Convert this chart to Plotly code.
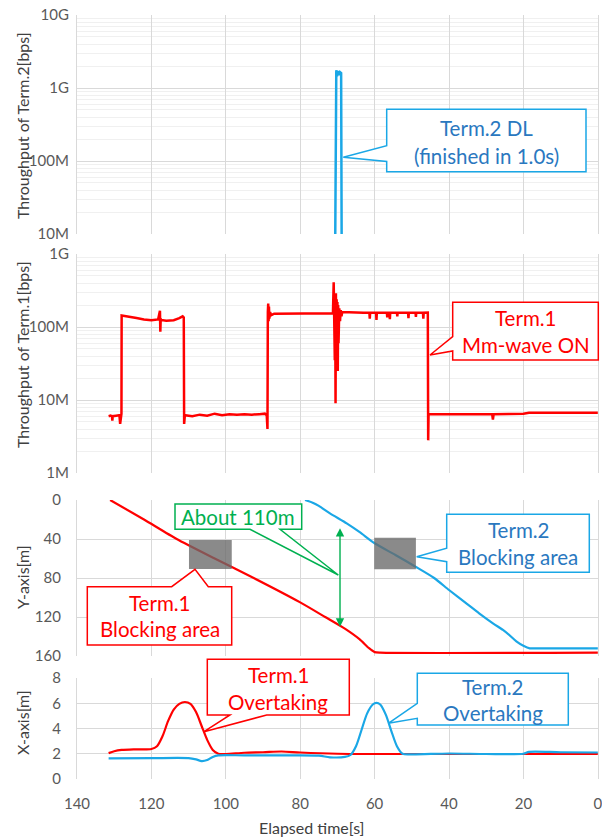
import plotly.graph_objects as go

# ---------------- data ----------------
# Term.2 throughput [bps] vs elapsed time [s]
t2_time = [132, 71.0, 70.7, 70.5, 70.3, 70.1, 69.9, 69.6, 69.3, 69.0, 68.8, 68.6, 0]
t2_tput = [None, None, 1e6, 1.55e9, 1.75e9, 1.45e9, 1.7e9, 1.5e9, 1.65e9, 1.6e9, 1e6, None, None]

# Term.1 throughput [bps]
t1_time = [131.5, 131.0, 130.6, 130.5, 130.4, 129.5, 128.6, 128.4, 128.2, 128.05, 128.0,
           126, 124, 122, 120, 118.2, 117.7, 117.6, 117.5, 117.4, 116, 114, 112.5, 111.6,
           111.3, 111.2, 111.0, 109, 107, 105, 103, 101, 99, 97, 95, 93, 91, 89.5, 89.0,
           88.8, 88.7, 88.6, 88.5, 88.4, 88.3, 88.1, 87.8, 87.0, 84, 80, 76, 73, 71.2,
           71.0, 70.9, 70.8, 70.7, 70.6, 70.5, 70.4, 70.3, 70.2, 70.1, 70.0, 69.9, 69.8,
           69.7, 69.5, 69.3, 69.1, 68.9, 68.7, 66, 63, 61.4, 61.3, 61.2, 59.6, 59.5, 59.4,
           56.7, 56.6, 56.5, 56.0, 55.9, 55.8, 54, 53.9, 53.8, 51, 50.9, 50.8, 49.0, 48.9,
           48.8, 47.0, 46.9, 46.8, 45.7, 45.6, 45.5, 45.3, 40, 35, 30, 28.4, 28.2, 28.0,
           24, 20, 18.5, 10, 0]
t1_tput = [6.0e6, 6.1e6, 6.0e6, 5.2e6, 6.0e6, 6.1e6, 6.2e6, 4.7e6, 6.3e6, 6.5e6, 1.44e8,
           1.40e8, 1.33e8, 1.27e8, 1.24e8, 1.27e8, 1.67e8, 0.86e8, 1.30e8, 1.25e8, 1.22e8,
           1.24e8, 1.32e8, 1.40e8, 1.35e8, 4.7e6, 6.2e6, 6.0e6, 6.3e6, 6.1e6, 6.5e6, 6.2e6,
           6.4e6, 6.3e6, 6.4e6, 6.3e6, 6.4e6, 6.5e6, 6.2e6, 4.0e6, 1.6e8, 2.1e8, 1.2e8,
           1.9e8, 1.3e8, 1.6e8, 1.45e8, 1.52e8, 1.53e8, 1.54e8, 1.55e8, 1.55e8, 1.54e8,
           4.1e8, 1.5e8, 2.9e8, 3.5e7, 2.6e8, 9.0e6, 2.9e8, 3.0e7, 2.4e8, 5.0e7, 2.2e8,
           2.5e7, 2.0e8, 6.0e7, 1.8e8, 1.2e8, 1.7e8, 1.4e8, 1.6e8, 1.57e8, 1.57e8, 1.57e8,
           1.3e8, 1.57e8, 1.57e8, 1.25e8, 1.57e8, 1.57e8, 1.35e8, 1.57e8, 1.57e8, 1.28e8,
           1.57e8, 1.57e8, 1.4e8, 1.57e8, 1.57e8, 1.32e8, 1.57e8, 1.57e8, 1.38e8, 1.57e8,
           1.57e8, 1.3e8, 1.57e8, 1.58e8, 2.8e6, 6.4e6, 6.4e6, 6.4e6, 6.4e6, 6.4e6, 6.4e6,
           5.4e6, 6.4e6, 6.45e6, 6.5e6, 6.7e6, 6.7e6, 6.7e6]

# Y position [m]
y1_time = [131.1, 122, 113.2, 103, 92.5, 80, 73.3, 68, 64, 61.5, 60.0, 58.5, 0]
y1_pos = [0, 20, 40, 60, 80, 105, 120, 132, 143, 152, 156, 156.6, 156.6]
y2_time = [78.7, 76.5, 75, 72, 67.5, 64, 60, 54.4, 49, 44, 40, 35, 31.9, 28, 25.5, 23.5,
           21.9, 20.0, 18.3, 16, 0]
y2_pos = [0, 3, 6, 13.7, 24, 33, 44.4, 56.4, 68.4, 80, 92.3, 107, 116.2, 127, 133.3, 139.5,
          145, 149.5, 152.1, 152.1, 152.1]

# X position [m]
x1_time = [131.5, 130, 128, 124, 120, 118.5, 117, 115.5, 114, 112.5, 111, 109.5, 108, 106.5,
           105, 103.5, 102, 100, 95, 90, 85, 80, 70, 60, 50, 40, 30, 20, 10, 0]
x1_pos = [2.05, 2.2, 2.3, 2.35, 2.38, 2.6, 3.4, 4.6, 5.5, 5.95, 6.1, 5.95, 5.3, 4.2, 3.1,
          2.3, 2.0, 1.98, 2.08, 2.12, 2.18, 2.1, 2.0, 1.98, 1.98, 1.98, 1.98, 1.98, 1.98, 1.98]
x2_time = [131.5, 120, 110, 108, 106.5, 105, 103.5, 102, 95, 85, 75, 72, 68, 66.5, 65, 63.5,
           62, 60.5, 59.5, 58.5, 57, 55.5, 54, 52.5, 50, 40, 30, 20, 18.5, 10, 0]
x2_pos = [1.63, 1.65, 1.65, 1.55, 1.42, 1.5, 1.75, 1.87, 1.87, 1.87, 1.85, 1.72, 1.75, 1.9,
          2.6, 3.9, 5.2, 5.9, 6.03, 5.9, 5.1, 3.8, 2.6, 2.0, 1.95, 2.02, 1.98, 2.0, 2.15,
          2.12, 2.1]

# Blocking areas: (t_start, t_end, y_top, y_bottom)
block_t1 = (109.9, 98.4, 41, 70.8)
block_t2 = (60.1, 48.9, 38.6, 71.1)
gap_arrow = (69.3, 27.4, 130)  # t, y_from, y_to

x_ticks = [140, 120, 100, 80, 60, 40, 20, 0]
log_tick_vals_1 = [1e7, 1e8, 1e9, 1e10]
log_tick_text_1 = ["10M", "100M", "1G", "10G"]
log_tick_vals_2 = [1e6, 1e7, 1e8, 1e9]
log_tick_text_2 = ["1M", "10M", "100M", "1G"]

# ---------------- layout helpers ----------------
W, H = 602, 837
L, R, T, B = 77, 4, 15, 58
PW, PH = W - L - R, H - T - B


def px(X):
    return (X - L) / PW


def py(Y):
    return (H - B - Y) / PH


RED = "#ff0000"
BLUE = "#1aa7e6"
BLUE_TXT = "#2a78bf"
GREEN = "#00b050"
GRID = "#d9d9d9"
MINOR = "#f0f0f0"
TICK = "#595959"
TITLE = "#404040"
FONT = "Lato"

fig = go.Figure()
fig.add_trace(go.Scatter(x=t2_time, y=t2_tput, mode="lines", line=dict(color=BLUE, width=2.5),
                         xaxis="x", yaxis="y", connectgaps=False, showlegend=False))
fig.add_trace(go.Scatter(x=t1_time, y=t1_tput, mode="lines", line=dict(color=RED, width=2.5),
                         xaxis="x2", yaxis="y2", showlegend=False))
fig.add_trace(go.Scatter(x=y1_time, y=y1_pos, mode="lines", line=dict(color=RED, width=2.2, shape="spline", smoothing=0.6),
                         xaxis="x3", yaxis="y3", showlegend=False))
fig.add_trace(go.Scatter(x=y2_time, y=y2_pos, mode="lines", line=dict(color=BLUE, width=2.2, shape="spline", smoothing=0.6),
                         xaxis="x3", yaxis="y3", showlegend=False))
fig.add_trace(go.Scatter(x=x1_time, y=x1_pos, mode="lines", line=dict(color=RED, width=2.2, shape="spline", smoothing=0.8),
                         xaxis="x4", yaxis="y4", showlegend=False))
fig.add_trace(go.Scatter(x=x2_time, y=x2_pos, mode="lines", line=dict(color=BLUE, width=2.2, shape="spline", smoothing=0.8),
                         xaxis="x4", yaxis="y4", showlegend=False))

domains = {
    1: [py(234), py(15)],
    2: [py(473), py(254)],
    3: [py(656), py(500)],
    4: [0, py(678)],
}

tickfont = dict(family=FONT, size=15, color=TICK)

layout = dict(
    width=W, height=H,
    margin=dict(l=L, r=R, t=T, b=B, pad=0),
    paper_bgcolor="white", plot_bgcolor="white",
    font=dict(family=FONT, color=TICK),
    showlegend=False,
)
for i in range(1, 5):
    xa = dict(domain=[0, 1], range=[140, -0.05], tickvals=x_ticks, showgrid=True,
              gridcolor=GRID, gridwidth=1.2, zeroline=False, showline=False,
              anchor="y" if i == 1 else f"y{i}", ticks="", automargin=False,
              showticklabels=(i == 4), tickfont=tickfont, ticklabelstandoff=14,
              ticklabeloverflow="allow")
    layout["xaxis" if i == 1 else f"xaxis{i}"] = xa

ycommon = dict(showgrid=True, gridcolor=GRID, gridwidth=1.2, zeroline=False,
               showline=True, mirror=True, linecolor=GRID, linewidth=1.2, ticks="",
               tickfont=tickfont, automargin=False)
log_common = dict(ycommon, type="log", ticklabelstandoff=4,
                  minor=dict(showgrid=True, gridcolor=MINOR, gridwidth=1, dtick="D1", ticks=""))
layout["yaxis"] = dict(log_common, domain=domains[1], anchor="x", range=[7, 10],
                       tickvals=log_tick_vals_1, ticktext=log_tick_text_1)
layout["yaxis2"] = dict(log_common, domain=domains[2], anchor="x2", range=[6, 9],
                        tickvals=log_tick_vals_2, ticktext=log_tick_text_2)
layout["yaxis3"] = dict(ycommon, domain=domains[3], anchor="x3", range=[160, 0],
                        tickvals=[0, 40, 80, 120, 160], ticklabelstandoff=12)
layout["yaxis4"] = dict(ycommon, domain=domains[4], anchor="x4", range=[0, 8],
                        tickvals=[0, 2, 4, 6, 8], ticklabelstandoff=12)
fig.update_layout(**layout)

shapes = []
annotations = []

# blocking areas
for (ta, tb, ya, yb) in (block_t1, block_t2):
    shapes.append(dict(type="rect", xref="x3", yref="y3", x0=ta, x1=tb, y0=ya, y1=yb,
                       fillcolor="rgba(105,105,105,0.78)", line=dict(width=0), layer="above"))

# green double arrow
annotations.append(dict(xref="x3", yref="y3", axref="x3", ayref="y3",
                        x=gap_arrow[0], y=gap_arrow[2], ax=gap_arrow[0], ay=gap_arrow[1],
                        text="", showarrow=True, arrowhead=2, arrowside="end+start",
                        arrowsize=1.2, arrowwidth=1.4, arrowcolor=GREEN))


def callout(box, side, base, tip, color):
    x0, y0, x1, y1 = box
    if side == "left":
        pts = [(x0, y0), (x1, y0), (x1, y1), (x0, y1), (x0, base[1]), tip, (x0, base[0])]
    elif side == "bottom":
        pts = [(x0, y0), (x1, y0), (x1, y1), (base[1], y1), tip, (base[0], y1), (x0, y1)]
    else:  # top
        pts = [(x0, y0), (base[0], y0), tip, (base[1], y0), (x1, y0), (x1, y1), (x0, y1)]
    path = "M " + " L ".join(f"{px(a):.5f},{py(b):.5f}" for a, b in pts) + " Z"
    shapes.append(dict(type="path", xref="paper", yref="paper", path=path,
                       fillcolor="white", line=dict(color=color, width=1.5), layer="above"))


def label(text, cx, cy, color, size=20.5):
    annotations.append(dict(xref="paper", yref="paper", x=px(cx), y=py(cy), text=text,
                            showarrow=False, xanchor="center", yanchor="middle",
                            font=dict(family=FONT, size=size, color=color)))


callouts = [
    dict(box=(386.7, 109.3, 586, 171.7), side="left", base=(145.7, 161.5), tip=(343.3, 157.3),
         color=BLUE, tc=BLUE_TXT, lines=[("Term.2 DL", 128.3), ("(finished in 1.0s)", 155.5)]),
    dict(box=(452.7, 302.3, 598.3, 360), side="left", base=(336.7, 351), tip=(430, 355),
         color=RED, tc=RED, lines=[("Term.1", 318.3), ("Mm-wave ON", 345)]),
    dict(box=(175, 504, 301.7, 529.3), side="bottom", base=(250, 280), tip=(338.3, 575),
         color=GREEN, tc=GREEN, lines=[("About 110m", 516.7)]),
    dict(box=(446.7, 514.3, 589.3, 572.3), side="left", base=(548.3, 561.7), tip=(416.7, 556.7),
         color=BLUE, tc=BLUE_TXT, lines=[("Term.2", 530), ("Blocking area", 557.3)]),
    dict(box=(87.3, 586.7, 231.7, 645), side="top", base=(171.7, 208.3), tip=(195, 569.3),
         color=RED, tc=RED, lines=[("Term.1", 603.3), ("Blocking area", 629.3)]),
    dict(box=(207.3, 659.3, 349.3, 715), side="bottom", base=(230, 266.7), tip=(204, 731.7),
         color=RED, tc=RED, lines=[("Term.1", 675), ("Overtaking", 701.7)]),
    dict(box=(417.3, 673.3, 568.3, 725), side="left", base=(703.3, 718.3), tip=(388.3, 723.3),
         color=BLUE, tc=BLUE_TXT, lines=[("Term.2", 686.7), ("Overtaking", 713.3)]),
]
for c in callouts:
    callout(c["box"], c["side"], c["base"], c["tip"], c["color"])
    cx = (c["box"][0] + c["box"][2]) / 2
    for txt, cy in c["lines"]:
        label(txt, cx, cy, c["tc"])

# axis titles
ytitles = [("Throughput of Term.2[bps]", 126), ("Throughput of Term.1[bps]", 355),
           ("Y-axis[m]", 577), ("X-axis[m]", 723)]
for txt, cy in ytitles:
    annotations.append(dict(xref="paper", yref="paper", x=px(22), y=py(cy), text=txt,
                            textangle=-90, showarrow=False, xanchor="center", yanchor="middle",
                            font=dict(family=FONT, size=16, color=TITLE)))
annotations.append(dict(xref="paper", yref="paper", x=px(311.7), y=py(827), text="Elapsed time[s]",
                        showarrow=False, xanchor="center", yanchor="middle",
                        font=dict(family=FONT, size=16, color=TITLE)))

fig.update_layout(shapes=shapes, annotations=annotations)
fig.write_html(
    "out.html", config={"displayModeBar": False},
    post_script=("document.documentElement.style.overflow='hidden';"
                 "document.body.style.overflow='hidden';"
                 "document.body.style.margin='0';document.body.style.padding='0';"
                 "window.scrollTo(0,0);"))
